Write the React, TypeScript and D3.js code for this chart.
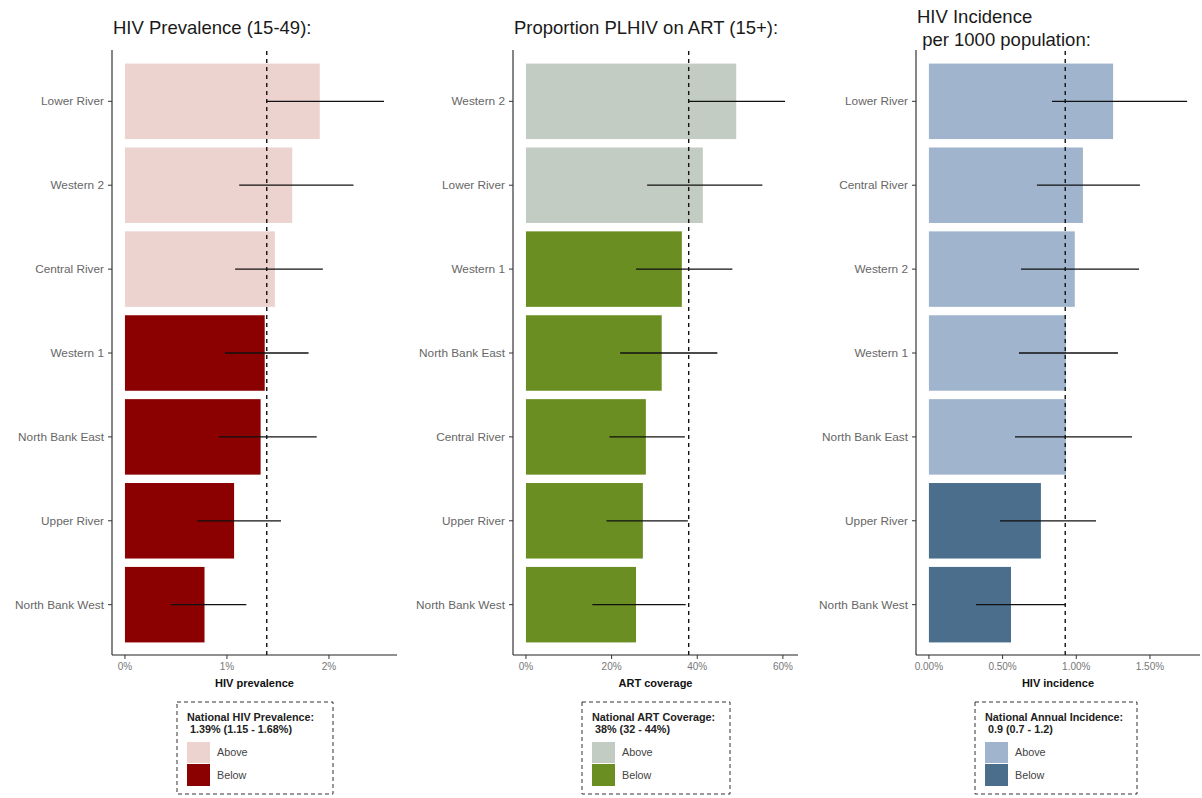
import React from "react";
import * as d3 from "d3";

// HIV prevalence (15-49), %
const prevRegions = ["Lower River", "Western 2", "Central River", "Western 1", "North Bank East", "Upper River", "North Bank West"];
const prevValues = [1.91, 1.64, 1.47, 1.37, 1.33, 1.07, 0.78];
const prevLower = [1.39, 1.12, 1.08, 0.98, 0.92, 0.71, 0.45];
const prevUpper = [2.54, 2.24, 1.94, 1.8, 1.88, 1.53, 1.19];
const prevNational = 1.39;
const prevTicks = [0, 1, 2];

// Proportion PLHIV on ART (15+), %
const artRegions = ["Western 2", "Lower River", "Western 1", "North Bank East", "Central River", "Upper River", "North Bank West"];
const artValues = [49.1, 41.3, 36.4, 31.7, 28.0, 27.3, 25.7];
const artLower = [38.0, 28.3, 25.7, 22.0, 19.5, 18.8, 15.5];
const artUpper = [60.5, 55.2, 48.2, 44.7, 37.1, 37.8, 37.3];
const artNational = 38;
const artTicks = [0, 20, 40, 60];

// HIV incidence per 1000 population
const incRegions = ["Lower River", "Central River", "Western 2", "Western 1", "North Bank East", "Upper River", "North Bank West"];
const incValues = [1.25, 1.045, 0.99, 0.93, 0.93, 0.76, 0.557];
const incLower = [0.835, 0.733, 0.625, 0.611, 0.584, 0.482, 0.319];
const incUpper = [1.752, 1.432, 1.426, 1.283, 1.378, 1.134, 0.93];
const incNational = 0.925;
const incTicks = [0, 0.5, 1, 1.5];

const FONT = "'Liberation Sans', Arial, Helvetica, sans-serif";

type PanelProps = {
  title: string[];
  regions: string[];
  values: number[];
  lower: number[];
  upper: number[];
  national: number;
  ticks: number[];
  tickFormat: (v: number) => string;
  axisTitle: string;
  legendTitle: string[];
  colorAbove: string;
  colorBelow: string;
  x0: number;
  x1: number;
  legendX: number;
  legendW: number;
};

function Panel(p: PanelProps) {
  const top = 51;
  const bottom = 655;
  const maxUp = d3.max(p.upper) as number;
  const pad = maxUp * 0.05;
  const x = d3.scaleLinear().domain([-pad, maxUp + pad]).range([p.x0, p.x1]);
  const y = d3
    .scaleBand<string>()
    .domain(p.regions)
    .range([top, bottom])
    .paddingInner(0.1)
    .paddingOuter(0.15);
  const cx = (p.x0 + p.x1) / 2;
  const legTop = 702;

  return (
    <g>
      {p.title.map((t, i) => (
        <text
          key={i}
          x={p.x0 + 1}
          y={p.title.length === 1 ? 34 : 23 + i * 23}
          fontSize={18.5}
          fill="#1a1a1a"
          style={{ whiteSpace: "pre" }}
        >
          {t}
        </text>
      ))}

      {/* bars */}
      {p.regions.map((r, i) => (
        <rect
          key={r}
          x={x(0)}
          y={y(r)}
          width={x(p.values[i]) - x(0)}
          height={y.bandwidth()}
          fill={p.values[i] > p.national ? p.colorAbove : p.colorBelow}
        />
      ))}

      {/* national reference */}
      <line
        x1={x(p.national)}
        x2={x(p.national)}
        y1={top}
        y2={bottom}
        stroke="#111"
        strokeWidth={1.4}
        strokeDasharray="4,4"
      />

      {/* confidence intervals */}
      {p.regions.map((r, i) => {
        const cy = (y(r) as number) + y.bandwidth() / 2;
        return (
          <line key={r} x1={x(p.lower[i])} x2={x(p.upper[i])} y1={cy} y2={cy} stroke="#111" strokeWidth={1.3} />
        );
      })}

      {/* y axis */}
      <line x1={p.x0} x2={p.x0} y1={top - 1} y2={bottom} stroke="#222" strokeWidth={1.1} />
      {p.regions.map((r) => {
        const cy = (y(r) as number) + y.bandwidth() / 2;
        return (
          <g key={r}>
            <line x1={p.x0 - 4} x2={p.x0} y1={cy} y2={cy} stroke="#333" strokeWidth={1} />
            <text x={p.x0 - 8} y={cy} dy="0.35em" textAnchor="end" fontSize={11.8} fill="#666">
              {r}
            </text>
          </g>
        );
      })}

      {/* x axis */}
      <line x1={p.x0} x2={p.x1} y1={bottom} y2={bottom} stroke="#222" strokeWidth={1.1} />
      {p.ticks.map((t) => (
        <g key={t}>
          <line x1={x(t)} x2={x(t)} y1={bottom} y2={bottom + 4} stroke="#333" strokeWidth={1} />
          <text x={x(t)} y={670} textAnchor="middle" fontSize={10} fill="#777">
            {p.tickFormat(t)}
          </text>
        </g>
      ))}
      <text x={cx} y={687} textAnchor="middle" fontSize={11} fontWeight="bold" fill="#111">
        {p.axisTitle}
      </text>

      {/* legend */}
      <rect
        x={p.legendX}
        y={legTop}
        width={p.legendW}
        height={92}
        fill="white"
        stroke="#333"
        strokeWidth={1}
        strokeDasharray="4,3"
      />
      {p.legendTitle.map((t, i) => (
        <text
          key={i}
          x={p.legendX + 10}
          y={legTop + 19 + i * 12}
          fontSize={10.8}
          fontWeight="bold"
          fill="#222"
          style={{ whiteSpace: "pre" }}
        >
          {t}
        </text>
      ))}
      <rect x={p.legendX + 10} y={legTop + 40} width={23} height={21} fill={p.colorAbove} />
      <rect x={p.legendX + 10} y={legTop + 62} width={23} height={22} fill={p.colorBelow} />
      <text x={p.legendX + 40} y={legTop + 50} dy="0.35em" fontSize={10.8} fill="#444">
        Above
      </text>
      <text x={p.legendX + 40} y={legTop + 73} dy="0.35em" fontSize={10.8} fill="#444">
        Below
      </text>
    </g>
  );
}

export default function App() {
  return (
    <svg
      width={1202}
      height={798}
      style={{ position: "absolute", left: 0, top: 0, background: "white", fontFamily: FONT }}
    >
      <Panel
        title={["HIV Prevalence (15-49):"]}
        regions={prevRegions}
        values={prevValues}
        lower={prevLower}
        upper={prevUpper}
        national={prevNational}
        ticks={prevTicks}
        tickFormat={(v) => `${v}%`}
        axisTitle="HIV prevalence"
        legendTitle={["National HIV Prevalence:", " 1.39% (1.15 - 1.68%)"]}
        colorAbove="#ECD3D0"
        colorBelow="#8B0000"
        x0={112}
        x1={397}
        legendX={177}
        legendW={156}
      />
      <Panel
        title={["Proportion PLHIV on ART (15+):"]}
        regions={artRegions}
        values={artValues}
        lower={artLower}
        upper={artUpper}
        national={artNational}
        ticks={artTicks}
        tickFormat={(v) => `${v}%`}
        axisTitle="ART coverage"
        legendTitle={["National ART Coverage:", " 38% (32 - 44%)"]}
        colorAbove="#C3CCC2"
        colorBelow="#6B8E23"
        x0={513}
        x1={798}
        legendX={582}
        legendW={148}
      />
      <Panel
        title={["HIV Incidence", " per 1000 population:"]}
        regions={incRegions}
        values={incValues}
        lower={incLower}
        upper={incUpper}
        national={incNational}
        ticks={incTicks}
        tickFormat={(v) => `${d3.format(".2f")(v)}%`}
        axisTitle="HIV incidence"
        legendTitle={["National Annual Incidence:", " 0.9 (0.7 - 1.2)"]}
        colorAbove="#A0B5CD"
        colorBelow="#4A6E8C"
        x0={916}
        x1={1200}
        legendX={975}
        legendW={162}
      />
    </svg>
  );
}
